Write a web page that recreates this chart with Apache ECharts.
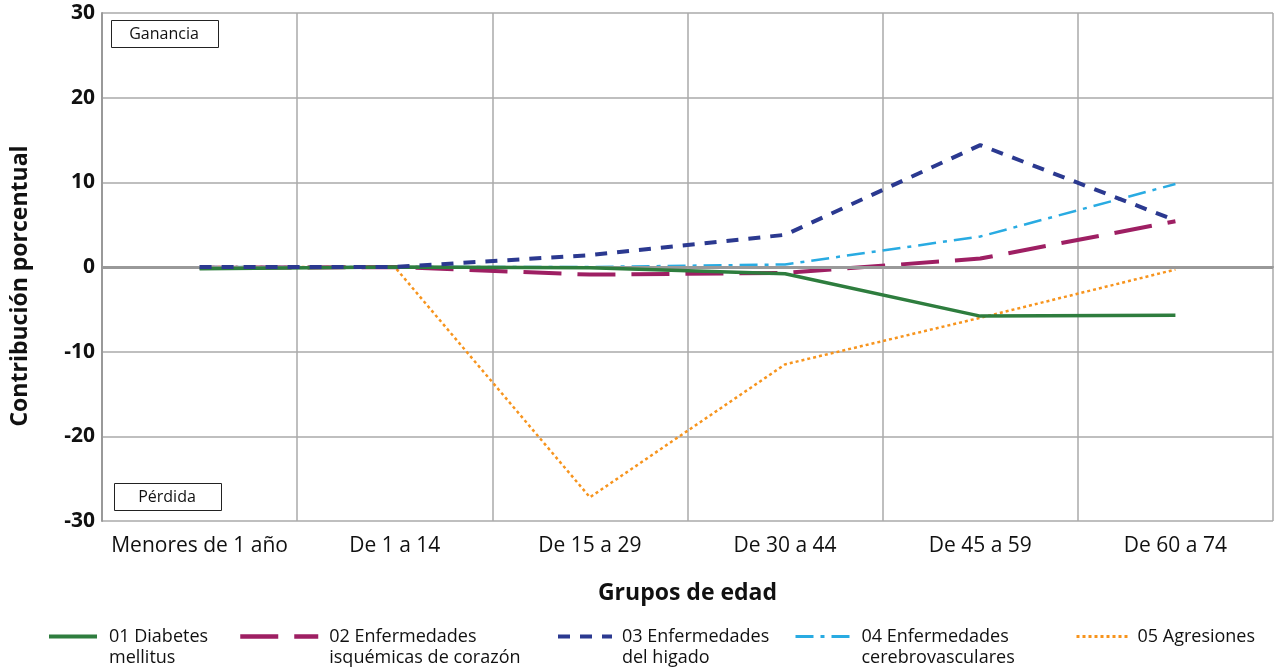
<!DOCTYPE html>
<html>
<head>
<meta charset="utf-8">
<script src="https://cdn.jsdelivr.net/npm/echarts@6/dist/echarts.min.js"></script>
<style>
  html, body { margin: 0; padding: 0; background: #fff; }
  #main { width: 1275px; height: 670px; }
</style>
</head>
<body>
<div id="main"></div>
<script>
// grupos de edad
var categories = ['Menores de 1 año', 'De 1 a 14', 'De 15 a 29', 'De 30 a 44', 'De 45 a 59', 'De 60 a 74'];
var yTicks = [-30, -20, -10, 0, 10, 20, 30];

// contribucion porcentual por causa
var diabetes = [-0.2, 0, -0.1, -0.8, -5.8, -5.7];
var isquemicas = [-0.1, 0, -0.9, -0.7, 1.0, 5.4];
var higado = [0, 0, 1.4, 3.8, 14.4, 5.5];
var cerebro = [0, 0, 0, 0.3, 3.6, 9.8];
var agresiones = [0, 0, -27.2, -11.5, -6.0, -0.3];

var names = [
    '01 Diabetes\nmellitus',
    '02 Enfermedades\nisquémicas de corazón',
    '03 Enfermedades\ndel higado',
    '04 Enfermedades\ncerebrovasculares',
    '05 Agresiones'
];

var FONT = 'Open Sans';
var chartDom = document.getElementById('main');
var myChart = echarts.init(chartDom);

// una leyenda por serie, colocada a mano
// (linea en blanco arriba para que el icono quede a la altura de la 1a linea)
function legendAt(name, left, w, gap, lw) {
    var twoLines = name.indexOf('\n') >= 0;
    return {
        data: [name],
        left: left,
        top: twoLines ? 605 : 626,
        padding: 0,
        itemWidth: w,
        itemHeight: 14,
        itemGap: 0,
        selectedMode: false,
        itemStyle: { opacity: 0 },
        lineStyle: { width: lw },
        formatter: function (n) {
            return n.indexOf('\n') >= 0 ? '\u00a0\n' + n : n;
        },
        textStyle: {
            fontFamily: FONT,
            fontSize: 18,
            color: '#111',
            lineHeight: 21,
            padding: [0, 0, 0, gap]
        }
    };
}

var option = {
    animation: false,
    textStyle: { fontFamily: FONT },
    grid: { left: 102, top: 13, right: 2, bottom: 149, containLabel: false },
    xAxis: {
        type: 'category',
        data: categories,
        boundaryGap: true,
        name: 'Grupos de edad',
        nameLocation: 'middle',
        nameGap: 61,
        nameTextStyle: { fontFamily: FONT, fontSize: 23, fontWeight: 'bold', color: '#111' },
        axisLine: { lineStyle: { color: '#999', width: 2 } },
        axisTick: { show: false },
        axisLabel: { interval: 0, fontFamily: FONT, fontSize: 21, color: '#111', margin: 15 },
        splitLine: { show: true, interval: 0, lineStyle: { color: '#aaa', width: 1.5 } }
    },
    yAxis: {
        type: 'value',
        min: yTicks[0],
        max: yTicks[yTicks.length - 1],
        interval: 10,
        name: 'Contribución porcentual',
        nameLocation: 'middle',
        nameGap: 70,
        nameTextStyle: { fontFamily: FONT, fontSize: 23, fontWeight: 'bold', color: '#111', padding: [0, 38, 0, 0] },
        axisLine: { show: true, lineStyle: { color: '#999', width: 2 } },
        axisTick: { show: false },
        axisLabel: { fontFamily: FONT, fontSize: 21, fontWeight: 'bold', color: '#111', margin: 7 },
        splitLine: { show: true, lineStyle: { color: '#aaa', width: 1.5 } }
    },
    legend: [
        legendAt(names[0], 47, 48, 7, 4),
        legendAt(names[1], 238, 78, 6, 4.5),
        legendAt(names[2], 556, 54, 5, 4),
        legendAt(names[3], 794, 54, 7, 3),
        legendAt(names[4], 1075, 51, 5, 3)
    ],
    graphic: [
        {
            type: 'rect', left: 111, top: 20, z: 10,
            shape: { width: 107, height: 27 },
            style: { fill: '#fff', stroke: '#222', lineWidth: 1 }
        },
        {
            type: 'text', x: 164, y: 34, z: 11,
            style: { text: 'Ganancia', font: '16px "' + FONT + '"', fill: '#111', align: 'center', verticalAlign: 'middle' }
        },
        {
            type: 'rect', left: 114, top: 483, z: 10,
            shape: { width: 107, height: 27 },
            style: { fill: '#fff', stroke: '#222', lineWidth: 1 }
        },
        {
            type: 'text', x: 167, y: 497, z: 11,
            style: { text: 'Pérdida', font: '16px "' + FONT + '"', fill: '#111', align: 'center', verticalAlign: 'middle' }
        }
    ],
    series: [
        {
            name: 'cero',
            type: 'line',
            data: [],
            z: 1,
            markLine: {
                silent: true,
                symbol: 'none',
                label: { show: false },
                lineStyle: { color: '#999', width: 3, type: 'solid' },
                data: [{ yAxis: 0 }]
            }
        },
        {
            name: names[4], type: 'line', data: agresiones, symbol: 'none', z: 3,
            lineStyle: { color: '#F7941D', width: 2.5, type: [3, 3] },
            itemStyle: { color: '#F7941D' }
        },
        {
            name: names[3], type: 'line', data: cerebro, symbol: 'none', z: 3,
            lineStyle: { color: '#29ABE2', width: 2.5, type: [18, 7, 4, 7] },
            itemStyle: { color: '#29ABE2' }
        },
        {
            name: names[1], type: 'line', data: isquemicas, symbol: 'none', z: 4,
            lineStyle: { color: '#9E1F63', width: 4, type: [38, 16] },
            itemStyle: { color: '#9E1F63' }
        },
        {
            name: names[0], type: 'line', data: diabetes, symbol: 'none', z: 5,
            lineStyle: { color: '#2E7D3E', width: 3.5, type: 'solid' },
            itemStyle: { color: '#2E7D3E' }
        },
        {
            name: names[2], type: 'line', data: higado, symbol: 'none', z: 6,
            lineStyle: { color: '#2B3990', width: 4, type: [12, 10] },
            itemStyle: { color: '#2B3990' }
        }
    ]
};

option && myChart.setOption(option);
</script>
</body>
</html>
